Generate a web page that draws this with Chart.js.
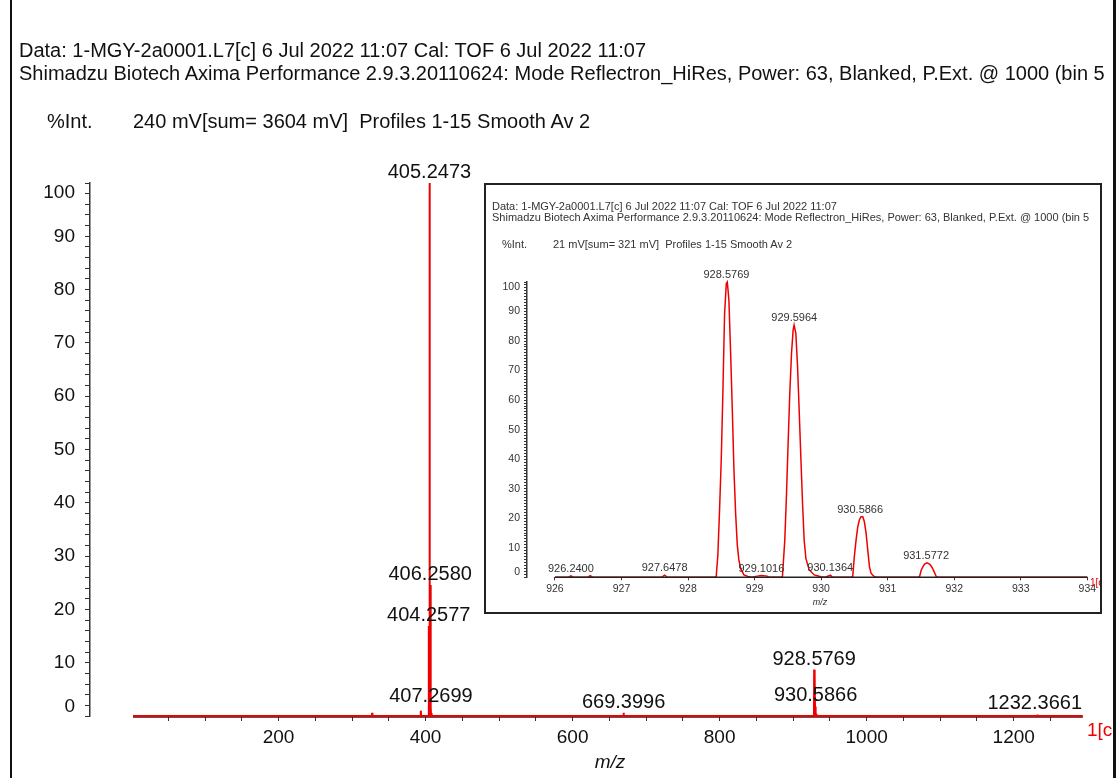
<!DOCTYPE html>
<html>
<head>
<meta charset="utf-8">
<script src="https://cdn.jsdelivr.net/npm/chart.js@4.4.0/dist/chart.umd.min.js"></script>
<style>
  body { margin: 0; background: #fff; }
  #page { position: relative; width: 1116px; height: 778px; overflow: hidden;
          font-family: "Liberation Sans", Arial, sans-serif; color: #111; }
  .t { position: absolute; white-space: pre; }
  .frame { position: absolute; top: 0; height: 778px; width: 2px; background: #111; }
  #inset { position: absolute; left: 484px; top: 183px; width: 618px; height: 431px;
           box-sizing: border-box; border: 2px solid #222; background: #fff; overflow: hidden; }
  #inset .t { color: #333; }
</style>
</head>
<body>
<div id="page">
  <canvas id="main" width="1116" height="778" style="position:absolute;left:0;top:0"></canvas>

  <div class="t" style="left:19px;top:40px;font-size:20px;line-height:20px">Data: 1-MGY-2a0001.L7[c] 6 Jul 2022 11:07 Cal: TOF 6 Jul 2022 11:07</div>
  <div class="t" style="left:19px;top:63px;font-size:20px;line-height:20px">Shimadzu Biotech Axima Performance 2.9.3.20110624: Mode Reflectron_HiRes, Power: 63, Blanked, P.Ext. @ 1000 (bin 5</div>
  <div class="t" style="left:47px;top:111px;font-size:20px;line-height:20px">%Int.</div>
  <div class="t" style="left:133px;top:111px;font-size:20px;line-height:20px">240 mV[sum= 3604 mV]  Profiles 1-15 Smooth Av 2</div>
  <div class="t" style="left:610px;top:752px;font-size:19px;line-height:19px;font-style:italic;transform:translateX(-50%)">m/z</div>
  <div class="t" style="left:1087px;top:720px;font-size:19px;line-height:19px;color:#e00">1[c</div>

  <div id="inset">
    <canvas id="zoomed" width="614" height="427" style="position:absolute;left:0;top:0"></canvas>
    <div class="t" style="left:6px;top:15px;font-size:11px;line-height:12px">Data: 1-MGY-2a0001.L7[c] 6 Jul 2022 11:07 Cal: TOF 6 Jul 2022 11:07</div>
    <div class="t" style="left:6px;top:26px;font-size:11px;line-height:12px">Shimadzu Biotech Axima Performance 2.9.3.20110624: Mode Reflectron_HiRes, Power: 63, Blanked, P.Ext. @ 1000 (bin 5</div>
    <div class="t" style="left:16px;top:53px;font-size:11px;line-height:12px">%Int.</div>
    <div class="t" style="left:67px;top:53px;font-size:11px;line-height:12px">21 mV[sum= 321 mV]  Profiles 1-15 Smooth Av 2</div>
    <div class="t" style="left:334px;top:413px;font-size:9px;line-height:9px;font-style:italic;transform:translateX(-50%)">m/z</div>
    <div class="t" style="left:604px;top:393px;font-size:10px;line-height:10px;color:#e00">1[c</div>
  </div>

  <div class="frame" style="left:10px"></div>
  <div class="frame" style="left:1113px;width:3px"></div>
</div>

<script>
// full spectrum, m/z and %Int
const mainMz = [2, 326.9, 327.3, 327.7, 393.1, 393.5, 393.9, 403.95, 404.2577, 404.55,
  404.95, 405.2473, 405.55, 405.95, 406.2580, 406.55, 406.95, 407.2699, 407.55, 408.0,
  408.3, 408.6, 669.1, 669.3996, 669.7, 928.3, 928.5769, 928.85, 929.3, 929.5964,
  929.85, 930.3, 930.5866, 930.85, 931.3, 931.5772, 931.85, 1232.1, 1232.3661, 1232.6, 1294];
const mainInt = [0, 0, 0.6, 0, 0, 1.0, 0, 0, 16.9, 0,
  0, 100, 0, 0, 24.6, 0, 0, 1.6, 0, 0,
  0.5, 0, 0, 0.6, 0, 0, 8.7, 0, 0, 7.4,
  0, 0, 1.8, 0, 0, 0.4, 0, 0, 0.3, 0, 0];
const mainPeakLabels = ['405.2473', '406.2580', '404.2577', '407.2699', '669.3996', '928.5769', '930.5866', '1232.3661'];
const mainXLabels = [200, 400, 600, 800, 1000, 1200];
const mainXMinor = [50, 100, 150, 200, 250, 300, 350, 400, 450, 500, 550, 600, 650, 700, 750, 800,
  850, 900, 950, 1000, 1050, 1100, 1150, 1200, 1250];
const mainYLabels = [0, 10, 20, 30, 40, 50, 60, 70, 80, 90, 100];

// zoomed isotope cluster around 928-932
const insetMz = [926.0, 926.20, 926.24, 926.28, 926.49, 926.53, 926.57, 927.60, 927.648, 927.69,
  928.40, 928.424, 928.448, 928.474, 928.499, 928.523, 928.549, 928.575, 928.590, 928.614,
  928.640, 928.665, 928.689, 928.715, 928.740, 928.764, 928.790, 928.840, 928.900, 928.960,
  929.04, 929.10, 929.19, 929.22, 929.40, 929.419, 929.454, 929.480, 929.504, 929.529,
  929.555, 929.579, 929.594, 929.620, 929.646, 929.670, 929.695, 929.721, 929.745, 929.771,
  929.821, 929.896, 929.997, 930.06, 930.12, 930.14, 930.17, 930.45, 930.475, 930.499,
  930.525, 930.550, 930.574, 930.600, 930.626, 930.650, 930.676, 930.701, 930.726, 930.751,
  930.801, 930.85, 931.46, 931.480, 931.505, 931.530, 931.555, 931.591, 931.630, 931.666,
  931.696, 931.731, 931.76, 934.0];
const insetInt = [0, 0, 0.5, 0, 0, 0.6, 0, 0, 0.7, 0,
  0, 0.3, 7.5, 23, 39.7, 62, 89, 99.5, 100, 94,
  76, 57, 37, 21.8, 11, 5.9, 3, 0.8, 0.3, 0,
  0.4, 0.6, 0.4, 0, 0, 0.3, 12.6, 28.4, 45.4, 62.3,
  75.8, 83.7, 85.4, 82.6, 71.3, 56.6, 40.8, 25, 12.6, 6.4,
  2.5, 0.8, 0.2, 0, 0.5, 0.7, 0, 0, 0.3, 7,
  12.6, 17, 19.4, 20.5, 20.5, 18.8, 14.9, 9.2, 3.6, 1.3,
  0.2, 0, 0, 0.3, 2.5, 3.6, 4.5, 4.9, 4.5, 3.4,
  2.0, 0.2, 0, 0];
const insetPeakLabels = ['926.2400', '927.6478', '928.5769', '929.1016', '929.5964', '930.1364', '930.5866', '931.5772'];
const insetXLabels = [926, 927, 928, 929, 930, 931, 932, 933, 934];
const insetYLabels = [0, 10, 20, 30, 40, 50, 60, 70, 80, 90, 100];

const RED = '#ee0000';
const FONT = '"Liberation Sans", Arial, sans-serif';

function drawAxisLine(chart, c) {
  const { ctx, scales: { x, y } } = chart;
  const py = y.getPixelForValue(0) + c.lineShift;
  ctx.save();
  ctx.strokeStyle = '#222';
  ctx.lineWidth = c.lineWidth;
  ctx.beginPath();
  ctx.moveTo(x.getPixelForValue(c.span[0]), py);
  ctx.lineTo(x.getPixelForValue(c.span[1]), py);
  ctx.stroke();
  ctx.restore();
}

// y labels: the end ones are pulled inside the axis like the original software does
function drawYLabels(chart, c) {
  const { ctx, chartArea: a, scales: { y } } = chart;
  const half = c.yFont / 2;
  ctx.save();
  ctx.font = c.yFont + 'px ' + FONT;
  ctx.fillStyle = c.color;
  ctx.textAlign = 'right';
  ctx.textBaseline = 'middle';
  c.yLabels.forEach(v => {
    let py = y.getPixelForValue(v);
    py = Math.min(Math.max(py, a.top + half), a.bottom - half);
    ctx.fillText(String(v), a.left - c.yGap, py);
  });
  ctx.restore();
}

function drawPeakLabels(chart, c) {
  const { ctx, chartArea: a, scales: { x, y } } = chart;
  const pts = chart.data.datasets[0].data;
  ctx.save();
  ctx.font = c.labelFont + 'px ' + FONT;
  ctx.fillStyle = c.color;
  ctx.textAlign = 'center';
  ctx.textBaseline = 'alphabetic';
  c.labels.forEach(s => {
    const m = parseFloat(s);
    let top = 0;
    pts.forEach(p => { if (Math.abs(p.x - m) <= c.win && p.y > top) top = p.y; });
    const w = ctx.measureText(s).width;
    let px = x.getPixelForValue(m);
    px = Math.min(px, a.right + c.overhang - w / 2);
    ctx.fillText(s, px, y.getPixelForValue(top) - c.lift);
  });
  ctx.restore();
}

function makeDecor(c) {
  return {
    id: 'decor',
    beforeDatasetsDraw(chart) { if (!c.lineOver) drawAxisLine(chart, c); },
    afterDatasetsDraw(chart) {
      if (c.lineOver) drawAxisLine(chart, c);
      drawYLabels(chart, c);
      drawPeakLabels(chart, c);
    }
  };
}

function spectrumChart(id, mz, inten, s) {
  return new Chart(document.getElementById(id), {
    type: 'line',
    data: {
      datasets: [{
        data: mz.map((m, i) => ({ x: m, y: inten[i] })),
        borderColor: RED,
        borderWidth: s.traceWidth,
        pointRadius: 0,
        tension: 0,
        clip: 6
      }]
    },
    options: {
      responsive: false,
      animation: false,
      devicePixelRatio: 1,
      layout: { padding: s.padding },
      plugins: { legend: { display: false }, tooltip: { enabled: false } },
      scales: {
        x: {
          type: 'linear',
          min: s.xMin,
          max: s.xMax,
          afterBuildTicks: sc => { sc.ticks = s.xTicks.map(v => ({ value: v })); },
          afterFit: sc => { sc.height = s.xHeight; },
          border: { display: false },
          grid: { drawOnChartArea: false, tickLength: s.tickLen, color: '#333' },
          ticks: {
            autoSkip: false, maxRotation: 0, padding: s.xPad, color: s.color,
            font: { family: FONT, size: s.tickFont },
            callback: v => s.xLabels.includes(v) ? String(v) : ''
          }
        },
        y: {
          min: 0,
          max: 100,
          afterFit: sc => { sc.width = s.yWidth; },
          border: { display: true, color: '#333', width: 1.5 },
          grid: { drawOnChartArea: false, tickLength: s.tickLen, color: '#333' },
          ticks: { stepSize: s.yStep, display: false }
        }
      }
    },
    plugins: [makeDecor({
      lineOver: s.lineOver, lineShift: s.lineShift, lineWidth: 1.5, span: s.span,
      yLabels: s.yLabels, yFont: s.tickFont, yGap: s.yGap,
      labels: s.labels, labelFont: s.labelFont, win: s.win, lift: s.lift, overhang: s.overhang,
      color: s.color
    })]
  });
}

spectrumChart('main', mainMz, mainInt, {
  traceWidth: 2, padding: { left: 0, top: 183, right: 31, bottom: 2 },
  xMin: -56.5, xMax: 1297, xTicks: mainXMinor, xLabels: mainXLabels, xHeight: 60, xPad: 5,
  tickLen: 5, tickFont: 19, yWidth: 90, yStep: 2, yLabels: mainYLabels, yGap: 15,
  lineOver: false, lineShift: 1, span: [2, 1294],
  labels: mainPeakLabels, labelFont: 20, win: 0.2, lift: 5, overhang: -3, color: '#111'
});

spectrumChart('zoomed', insetMz, insetInt, {
  traceWidth: 1.5, padding: { left: 0, top: 97, right: 12.7, bottom: 4.7 },
  xMin: 925.58, xMax: 934, xTicks: insetXLabels, xLabels: insetXLabels, xHeight: 30, xPad: 3,
  tickLen: 3, tickFont: 10.5, yWidth: 41, yStep: 1, yLabels: insetYLabels, yGap: 7,
  lineOver: true, lineShift: 0, span: [926, 934],
  labels: insetPeakLabels, labelFont: 11, win: 0.06, lift: 4, overhang: 2, color: '#333'
});
</script>
</body>
</html>
